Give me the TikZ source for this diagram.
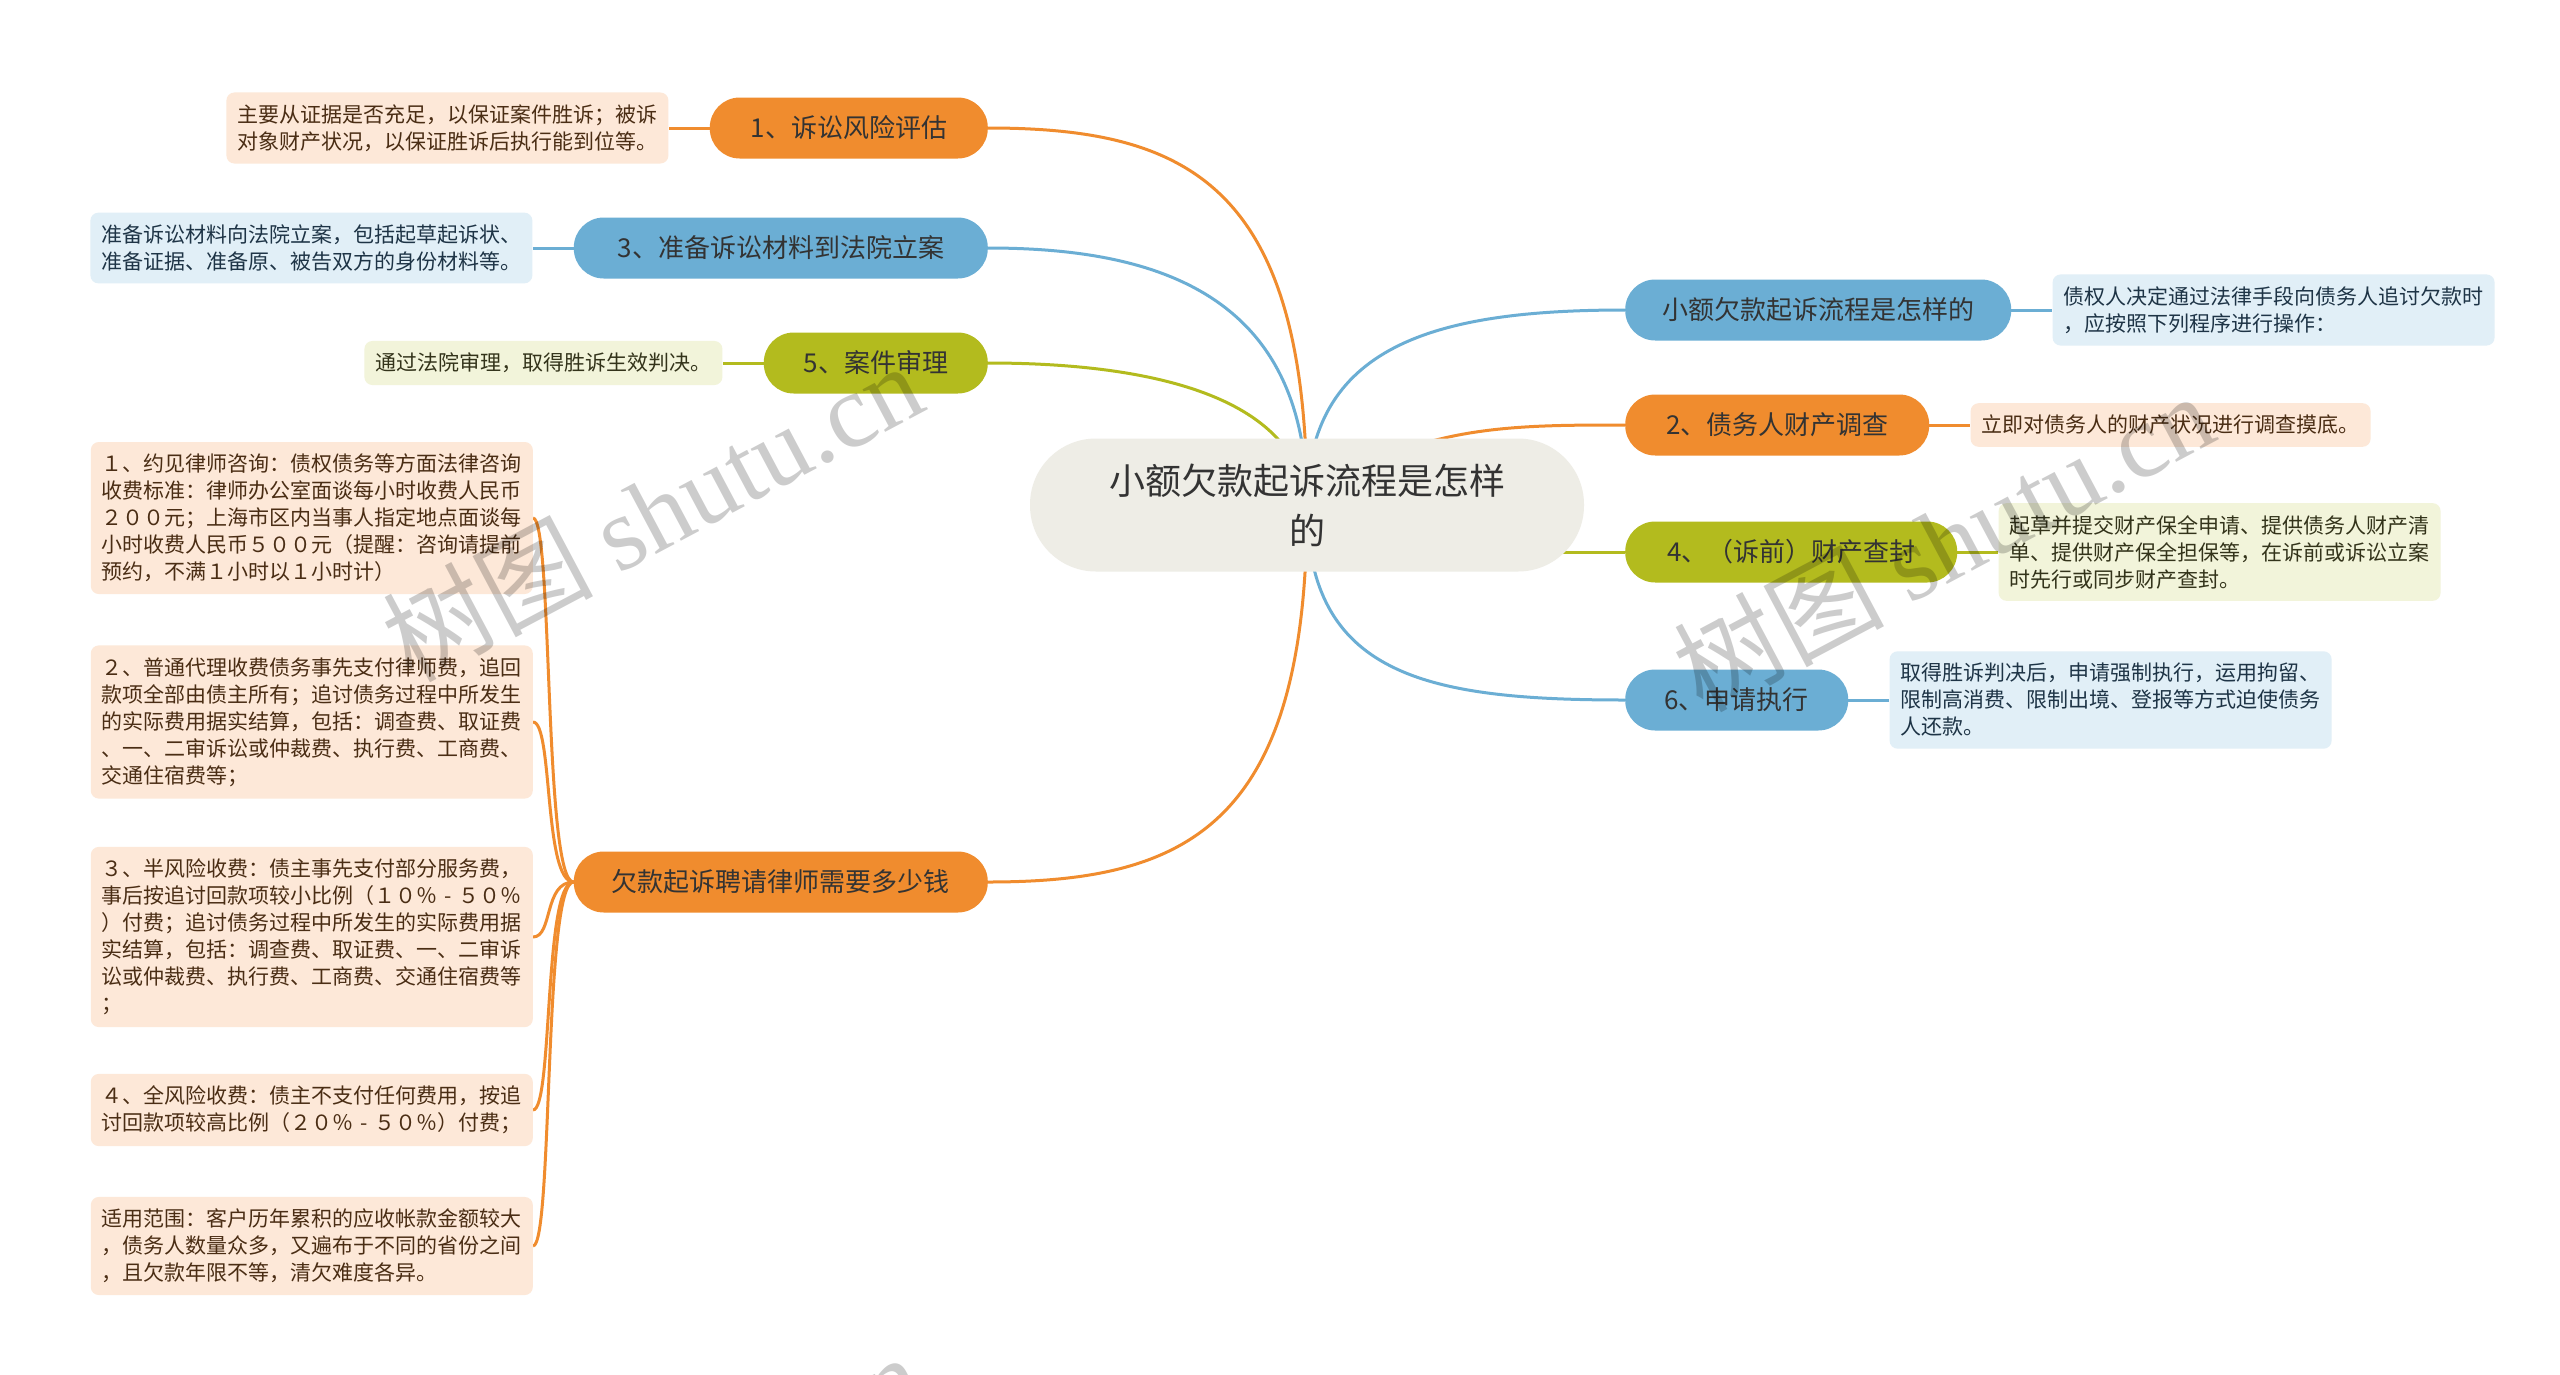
\documentclass[tikz,border=0pt]{standalone}
\usepackage{fontspec}
\setmainfont{Noto Sans CJK SC}
\newfontfamily\wmfont{Liberation Serif}
\usepackage{tikz}
\usetikzlibrary{positioning,backgrounds}

\definecolor{rootfill}{HTML}{EEEDE6}
\definecolor{orangefill}{HTML}{F08C2E}
\definecolor{bluefill}{HTML}{6BAED4}
\definecolor{greenfill}{HTML}{B3BB1E}
\definecolor{orangenote}{HTML}{FDE8D8}
\definecolor{bluenote}{HTML}{E1EFF7}
\definecolor{greennote}{HTML}{F2F4DA}
\definecolor{inktext}{HTML}{333333}
\definecolor{orangeink}{HTML}{4A2D14}
\definecolor{blueink}{HTML}{1E3446}
\definecolor{greenink}{HTML}{33331A}
\newcommand{\rangedash}{\makebox[1em]{-}}

\begin{document}
\begin{tikzpicture}[x=1pt,y=-1pt,node distance=41pt]
    % pixel grid of the page, y running down
    \tikzstyle{mainnode}=[rounded corners=66pt,fill=rootfill,text=inktext,minimum width=554pt,
    minimum height=133pt,align=center,font=\fontsize{36}{50}\selectfont]
    \tikzstyle{topic}=[rounded corners=30pt,minimum height=61pt,inner xsep=0pt,text=inktext,
    font=\fontsize{26}{30}\selectfont]
    \tikzstyle{topicorange}=[topic,fill=orangefill]
    \tikzstyle{topicblue}=[topic,fill=bluefill]
    \tikzstyle{topicgreen}=[topic,fill=greenfill]
    \tikzstyle{note}=[rounded corners=8pt,inner xsep=11pt,inner ysep=12pt,align=left,
    font=\fontsize{21}{27}\selectfont]
    \tikzstyle{noteorange}=[note,fill=orangenote,text=orangeink]
    \tikzstyle{noteblue}=[note,fill=bluenote,text=blueink]
    \tikzstyle{notegreen}=[note,fill=greennote,text=greenink]
    \tikzstyle{linkorange}=[draw=orangefill,line width=3pt]
    \tikzstyle{linkblue}=[draw=bluefill,line width=3pt]
    \tikzstyle{linkgreen}=[draw=greenfill,line width=3pt]
    \tikzstyle{watermark}=[text=black,text opacity=0.2,rotate=28,font=\fontsize{105}{110}\selectfont]

    \useasboundingbox (0,0) rectangle (2560,1374);

    \node [mainnode] (root) at (1307,505) {小额欠款起诉流程是怎样\\的};

    \node [topicorange,minimum width=278pt,anchor=east] (t1) at (988,128) {1、诉讼风险评估};
    \node [topicblue,minimum width=414pt,anchor=east]   (t3) at (988,248) {3、准备诉讼材料到法院立案};
    \node [topicgreen,minimum width=224pt,anchor=east]  (t5) at (988,363) {5、案件审理};
    \node [topicorange,minimum width=414pt,anchor=east] (fee) at (988,882) {欠款起诉聘请律师需要多少钱};
    \node [topicblue,minimum width=386pt,anchor=west]   (t0) at (1625,310) {小额欠款起诉流程是怎样的};
    \node [topicorange,minimum width=304pt,anchor=west] (t2) at (1625,425) {2、债务人财产调查};
    \node [topicgreen,minimum width=332pt,anchor=west]  (t4) at (1625,552) {4、（诉前）财产查封};
    \node [topicblue,minimum width=223pt,anchor=west]   (t6) at (1625,700) {6、申请执行};

    \node [noteorange] (n1) [left=of t1] {主要从证据是否充足，以保证案件胜诉；被诉\\对象财产状况，以保证胜诉后执行能到位等。};
    \node [noteblue]   (n3) [left=of t3] {准备诉讼材料向法院立案，包括起草起诉状、\\准备证据、准备原、被告双方的身份材料等。};
    \node [notegreen]  (n5) [left=of t5] {通过法院审理，取得胜诉生效判决。};
    \node [noteblue]   (n0) [right=of t0] {债权人决定通过法律手段向债务人追讨欠款时\\，应按照下列程序进行操作：};
    \node [noteorange] (n2) [right=of t2] {立即对债务人的财产状况进行调查摸底。};
    \node [notegreen]  (n4) [right=of t4] {起草并提交财产保全申请、提供债务人财产清\\单、提供财产保全担保等，在诉前或诉讼立案\\时先行或同步财产查封。};
    \node [noteblue]   (n6) [right=of t6] {取得胜诉判决后，申请强制执行，运用拘留、\\限制高消费、限制出境、登报等方式迫使债务\\人还款。};

    \node [noteorange,anchor=east] (f1) at (533,518) {１、约见律师咨询：债权债务等方面法律咨询\\收费标准：律师办公室面谈每小时收费人民币\\２００元；上海市区内当事人指定地点面谈每\\小时收费人民币５００元（提醒：咨询请提前\\预约，不满１小时以１小时计）};
    \node [noteorange,anchor=east] (f2) at (533,722) {２、普通代理收费债务事先支付律师费，追回\\款项全部由债主所有；追讨债务过程中所发生\\的实际费用据实结算，包括：调查费、取证费\\、一、二审诉讼或仲裁费、执行费、工商费、\\交通住宿费等；};
    \node [noteorange,anchor=east] (f3) at (533,937) {３、半风险收费：债主事先支付部分服务费，\\事后按追讨回款项较小比例（１０％\rangedash５０％\\）付费；追讨债务过程中所发生的实际费用据\\实结算，包括：调查费、取证费、一、二审诉\\讼或仲裁费、执行费、工商费、交通住宿费等\\；};
    \node [noteorange,anchor=east] (f4) at (533,1110) {４、全风险收费：债主不支付任何费用，按追\\讨回款项较高比例（２０％\rangedash５０％）付费；};
    \node [noteorange,anchor=east] (f5) at (533,1246) {适用范围：客户历年累积的应收帐款金额较大\\，债务人数量众多，又遍布于不同的省份之间\\，且欠款年限不等，清欠难度各异。};

    \begin{scope}[on background layer]
    \fill [white] (0,0) rectangle (2560,1374);
    \draw [linkorange] (root.center) .. controls +(0,-320) and +(200,0) .. (t1.east);
    \draw [linkblue]   (root.center) .. controls +(0,-210) and +(170,0) .. (t3.east);
    \draw [linkgreen]  (root.center) .. controls +(-10,-110) and +(160,0) .. (t5.east);
    \draw [linkorange] (root.center) .. controls +(0,320) and +(200,0) .. (fee.east);
    \draw [linkblue]   (root.center) .. controls +(0,-160) and +(-190,0) .. (t0.west);
    \draw [linkorange] (root.center) .. controls +(100,-80) and +(-120,0) .. (t2.west);
    \draw [linkgreen]  (root.center |- t4.west) -- (t4.west);
    \draw [linkblue]   (root.center) .. controls +(0,170) and +(-200,0) .. (t6.west);

    \draw [linkorange] (t1.west) -- (n1.east);
    \draw [linkblue]   (t3.west) -- (n3.east);
    \draw [linkgreen]  (t5.west) -- (n5.east);
    \draw [linkblue]   (t0.east) -- (n0.west);
    \draw [linkorange] (t2.east) -- (n2.west);
    \draw [linkgreen]  (t4.east) -- (n4.west);
    \draw [linkblue]   (t6.east) -- (n6.west);
    \foreach \f in {f1,f2,f3,f4,f5}
        \draw [linkorange] (fee.west) .. controls +(-30,0) and +(20,0) .. (\f.east);
    \end{scope}

    \begin{scope}
    \clip (0,0) rectangle (2560,1374);
    \node [watermark] (wm1) at (652,511) {树图 {\wmfont shutu.cn}};
    \node [watermark] (wm2) at (1943,541) {树图 {\wmfont shutu.cn}};
    \node [watermark] (wm3) at (652,1502) {树图 {\wmfont shutu.cn}};
    \node [watermark] (wm4) at (1943,1531) {树图 {\wmfont shutu.cn}};
    \end{scope}
\end{tikzpicture}
\end{document}
